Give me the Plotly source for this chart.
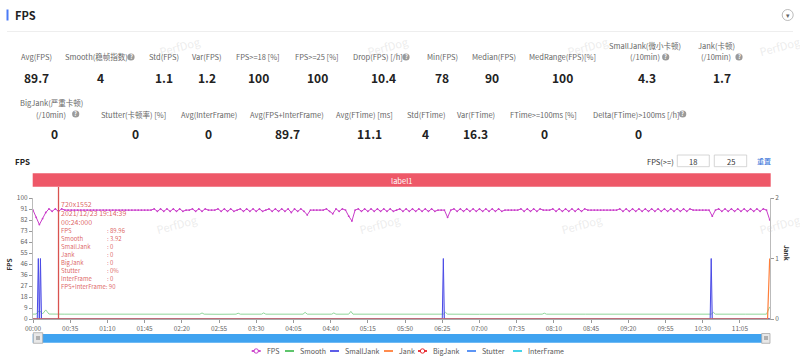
import plotly.graph_objects as go

# ---------------- data ----------------
fps_t = list(range(0, 694, 3))  # sample times (s)
fps_values = [
    90, 84, 78, 83, 88,
    91, 89, 91, 89, 91,
    90, 90, 90, 90, 90, 90, 90, 90, 90, 90, 90, 90, 90, 90,
    90, 90, 90, 90, 90, 90, 90, 90, 90, 90, 90, 90, 90, 90,
    91, 89, 91, 89, 91, 89, 91, 89, 91, 89,
    90, 90,
    91, 89, 91, 89, 91,
    90, 90, 90,
    91, 89, 91, 89, 91, 89, 90, 91, 89, 91, 89, 91, 89, 91, 89,
    90, 91, 89, 91, 89, 91, 89, 91, 88, 91, 89, 91, 89, 86,
    90, 90, 90, 90, 90,
    91, 89, 87, 91, 89, 91,
    90, 85, 81, 90,
    91, 89, 91, 89, 91, 89, 91, 89, 91, 89, 91, 89, 90,
    91, 89, 91, 89, 91, 89, 91, 89, 91, 89, 91, 89,
    90, 90, 90,
    84,
    90,
    91, 89, 91, 89, 91, 89, 91, 89, 91, 89, 91, 89, 91, 89, 91, 89,
    90, 90, 90, 90, 90,
    91, 89, 91, 89, 91, 89, 91,
    90, 90, 90,
    91, 89, 91, 89, 91, 89, 91, 89, 91, 89, 91,
    90, 90, 90, 90, 90, 90, 90, 90, 90, 90,
    91, 89, 91, 89, 91, 89, 91, 89, 91, 89, 91, 89, 91, 89, 91, 89, 91, 89, 91, 89, 91, 89, 91,
    90, 90, 90, 90, 90, 90,
    85,
    90,
    91, 89, 91, 89, 91, 89, 91, 89, 91, 89, 91, 89, 91, 89, 91,
    90,
    82,
]

smooth_t = [0, 3, 6, 9, 12, 15, 30, 60, 90, 120, 150, 157, 159, 161, 175, 191, 193, 195,
            215, 217, 219, 240, 254, 256, 258, 270, 281, 283, 285, 297, 299, 301, 330, 360,
            386, 388, 390, 420, 450, 479, 481, 483, 520, 560, 600, 638, 640, 642, 670, 690, 693]
smooth_values = [4.0, 4.1, 7.0, 4.2, 7.5, 4.1, 4.0, 3.9, 4.0, 4.0, 4.0, 4.0, 5.0, 4.0, 3.9, 4.0, 4.8, 4.0,
                 4.0, 5.0, 4.0, 3.9, 4.0, 5.5, 4.0, 4.0, 4.0, 5.0, 4.0, 4.0, 6.3, 4.0, 4.0, 3.9,
                 4.0, 5.5, 4.0, 3.9, 4.0, 4.0, 4.8, 4.0, 4.0, 3.9, 4.0, 4.0, 5.5, 4.0, 4.0, 4.0, 10.0]

smalljank_t = [0, 4, 5, 6, 7, 8, 385, 386, 387, 637, 638, 639, 693]
smalljank_values = [0, 0, 1, 0, 1, 0, 0, 1, 0, 0, 1, 0, 0]
jank_t = [0, 691, 693]
jank_values = [0, 0, 1]
bigjank_t = [0, 693]
bigjank_values = [0, 0]
stutter_t = [0, 693]
stutter_values = [0, 0]
interframe_t = [0, 693]
interframe_values = [0, 0]

series_names = ["FPS", "Smooth", "SmallJank", "Jank", "BigJank", "Stutter", "InterFrame"]

x_tick_labels = ["00:00", "00:35", "01:10", "01:45", "02:20", "02:55", "03:30", "04:05", "04:40",
                 "05:15", "05:50", "06:25", "07:00", "07:35", "08:10", "08:45", "09:20", "09:55",
                 "10:30", "11:05"]
y_tick_labels = ["0", "9", "18", "27", "36", "46", "55", "64", "73", "82", "91", "100"]
y2_tick_labels = ["0", "1", "2"]

row1_labels = ["Avg(FPS)", "Smooth(稳帧指数)", "Std(FPS)", "Var(FPS)", "FPS>=18 [%]", "FPS>=25 [%]",
               "Drop(FPS) [/h]", "Min(FPS)", "Median(FPS)", "MedRange(FPS)[%]",
               "SmallJank(微小卡顿)<br>(/10min)", "Jank(卡顿)<br>(/10min)"]
row1_values = [89.7, 4, 1.1, 1.2, 100, 100, 10.4, 78, 90, 100, 4.3, 1.7]
row2_labels = ["BigJank(严重卡顿)<br>(/10min)", "Stutter(卡顿率) [%]", "Avg(InterFrame)",
               "Avg(FPS+InterFrame)", "Avg(FTime) [ms]", "Std(FTime)", "Var(FTime)",
               "FTime>=100ms [%]", "Delta(FTime)>100ms [/h]"]
row2_values = [0, 0, 0, 89.7, 11.1, 4, 16.3, 0, 0]

tooltip_time = 24
tooltip_header = ["720x1552", "2021/12/23 19:14:39", "00:24:000"]
tooltip_names = ["FPS", "Smooth", "SmallJank", "Jank", "BigJank", "Stutter", "InterFrame"]
tooltip_values = ["89.96", "3.92", "0", "0", "0", "0%", "0"]
tooltip_combo = "FPS+InterFrame: 90"
label_name = "label1"
fps_thresholds = ["18", "25"]

# ---------------- styles / layout ----------------
W, H = 800, 358
L, R, T, B = 33, 770, 198, 319
PW, PH = R - L, B - T


def PX(x):
    return (x - L) / PW


def PY(y):
    return (B - y) / PH


FONT = "Noto Sans CJK SC, Noto Sans, sans-serif"
colors = {"FPS": "#c93bc9", "Smooth": "#4cbf5c", "SmallJank": "#4b4be6", "Jank": "#ff7f3a",
          "BigJank": "#e8262c", "Stutter": "#4a8af4", "InterFrame": "#33cfe6"}

fig = go.Figure()
fig.add_trace(go.Scatter(x=fps_t, y=fps_values, name="FPS", mode="lines+markers",
                         line=dict(color=colors["FPS"], width=1),
                         marker=dict(size=1.8, color=colors["FPS"]), yaxis="y"))
fig.add_trace(go.Scatter(x=smooth_t, y=smooth_values, name="Smooth", mode="lines",
                         line=dict(color="#8fd69a", width=1), yaxis="y"))
fig.add_trace(go.Scatter(x=stutter_t, y=stutter_values, name="Stutter", mode="lines",
                         line=dict(color=colors["Stutter"], width=1), yaxis="y"))
fig.add_trace(go.Scatter(x=interframe_t, y=interframe_values, name="InterFrame", mode="lines",
                         line=dict(color=colors["InterFrame"], width=1), yaxis="y"))
fig.add_trace(go.Scatter(x=bigjank_t, y=bigjank_values, name="BigJank", mode="lines",
                         line=dict(color=colors["BigJank"], width=1), yaxis="y2"))
fig.add_trace(go.Scatter(x=smalljank_t, y=smalljank_values, name="SmallJank", mode="lines",
                         line=dict(color=colors["SmallJank"], width=1), fill="tozeroy",
                         fillcolor="rgba(110,110,240,0.25)", yaxis="y2"))
fig.add_trace(go.Scatter(x=jank_t, y=jank_values, name="Jank", mode="lines",
                         line=dict(color=colors["Jank"], width=1.2), yaxis="y2"))


def secs(lbl):
    m, s = lbl.split(":")
    return int(m) * 60 + int(s)


x_tick_vals = [secs(t) for t in x_tick_labels]
y_tick_vals = [i * 100 / 11 for i in range(len(y_tick_labels))]
tickfont = dict(size=6.5, color="#666", family=FONT)

shapes = []
ann = []


def text(x, y, s, size=7.5, color="#555", bold=False, xanchor="center", angle=0, **kw):
    if bold:
        s = "<b>" + s + "</b>"
    ann.append(dict(x=PX(x), y=PY(y), xref="paper", yref="paper", text=s, showarrow=False,
                    xanchor=xanchor, yanchor="middle", textangle=angle,
                    font=dict(size=size, color=color, family=FONT), **kw))


def rect(x0, y0, x1, y1, fill, line="rgba(0,0,0,0)", lw=0):
    shapes.append(dict(type="rect", xref="paper", yref="paper", x0=PX(x0), x1=PX(x1),
                       y0=PY(y1), y1=PY(y0), fillcolor=fill, line=dict(color=line, width=lw)))


def circle(cx, cy, r, fill, line="rgba(0,0,0,0)", lw=0):
    shapes.append(dict(type="circle", xref="paper", yref="paper", x0=PX(cx - r), x1=PX(cx + r),
                       y0=PY(cy + r), y1=PY(cy - r), fillcolor=fill, line=dict(color=line, width=lw)))


def hline(x0, x1, y, color, lw):
    shapes.append(dict(type="line", xref="paper", yref="paper", x0=PX(x0), x1=PX(x1),
                       y0=PY(y), y1=PY(y), line=dict(color=color, width=lw)))


# watermarks
for wx, wy in [(180, 46), (388, 46), (588, 46), (780, 46), (177, 224), (380, 224), (582, 224), (780, 224)]:
    text(wx, wy, "PerfDog", size=11, color="rgba(200,200,200,0.35)", angle=-15)

# header
rect(6.5, 9.5, 8.5, 20.5, "#4a7bf7")
text(13, 15, "FPS", size=11, color="#222", bold=True, xanchor="left")
hline(7, 793, 31.5, "#eeeeee", 1)
circle(787.7, 15, 5.5, "white", "#aaa", 0.8)
text(787.7, 15.5, "▾", size=7, color="#666")

# stats
row1_label_x = [36, 96.7, 164, 206.7, 257.5, 317, 377.5, 442.5, 494, 562.5, 645, 716]
row1_value_x = [36, 100, 164, 206.7, 258, 317, 383, 442.3, 492, 562, 646.7, 721.7]
row2_label_x = [51, 133, 209, 287, 364, 426, 475.5, 543, 636]
row2_value_x = [54.3, 135, 208.3, 287.3, 369.3, 425.7, 475.7, 544, 638.3]


def stat_row(labels, values, lx, vx, ly, vy):
    for lab, val, x1, x2 in zip(labels, values, lx, vx):
        lines = lab.split("<br>")
        n = len(lines)
        for k, ln in enumerate(lines):
            text(x1, ly - (n - 1 - k) * 11.7, ln, size=7.5, color="#666")
        text(x2, vy, str(val), size=12, color="#222", bold=True)


stat_row(row1_labels, row1_values, row1_label_x, row1_value_x, 56.7, 77.3)
stat_row(row2_labels, row2_values, row2_label_x, row2_value_x, 114, 133.3)

for qx, qy in [(131, 57), (406, 57), (665.7, 57), (739, 57), (75.7, 114), (682.7, 114)]:
    circle(qx, qy, 3.6, "#9a9a9a")
    text(qx, qy + 0.3, "?", size=5.5, color="white", bold=True)

# chart header
text(12.5, 161, "FPS", size=8, color="#222", bold=True, xanchor="left")
text(645, 161, "FPS(>=)", size=7.5, color="#333", xanchor="left")
rect(677.3, 155, 709.3, 166.7, "white", "#cccccc", 0.8)
rect(714.3, 155, 746.7, 166.7, "white", "#cccccc", 0.8)
text(693.3, 161, fps_thresholds[0], size=7.5, color="#333")
text(730.5, 161, fps_thresholds[1], size=7.5, color="#333")
text(763.5, 161, "重置", size=7, color="#2f6fd8")

rect(32.7, 173.3, 770.7, 186.7, "#ee5868")
text(401, 180, label_name, size=7.5, color="white")

# axis titles
text(8.5, 265, "FPS", size=6.5, color="#333", bold=True, angle=-90)
text(787, 253, "Jank", size=6.5, color="#333", bold=True, angle=90)

# tooltip
shapes.append(dict(type="line", xref="x", yref="paper", x0=tooltip_time, x1=tooltip_time,
                   y0=0, y1=PY(187), line=dict(color="#d9534f", width=1.3)))
tcol = "rgba(214,70,70,0.85)"


def tip(s, yy, size, shift):
    ann.append(dict(x=tooltip_time, y=PY(yy), xref="x", yref="paper", text=s, showarrow=False,
                    xanchor="left", yanchor="middle", xshift=shift, borderpad=0,
                    font=dict(size=size, color=tcol, family=FONT)))


for s, yy in zip(tooltip_header, [203.5, 212.5, 222]):
    tip(s, yy, 7, 1)
rows_y = [230.7, 238.7, 246.7, 254.7, 262.7, 270.7, 278.7]
for nm, vl, yy in zip(tooltip_names, tooltip_values, rows_y):
    tip(nm, yy, 6, 1)
    tip(": " + vl, yy, 6, 47)
tip(tooltip_combo, 286.7, 6, 1)

# slider (data zoom)
rect(32.7, 334, 770, 342.7, "#3fa3f0")
rect(33.3, 332.7, 42.7, 343.3, "#e8e8e8", "#aaaaaa", 0.8)
rect(36, 336, 40, 340, "#b0b0b0")
rect(761.7, 333.5, 770, 343.3, "#e8e8e8", "#aaaaaa", 0.8)
rect(764, 336, 768, 340, "#b0b0b0")

# legend
legend_sym_x = [251.7, 285, 330, 384, 418, 467, 513]
with_marker = {"FPS", "BigJank"}
for nm, x0 in zip(series_names, legend_sym_x):
    hline(x0, x0 + 9, 351, colors[nm], 1.8)
    if nm in with_marker:
        circle(x0 + 4.5, 351, 2.2, "white", colors[nm], 1)
    text(x0 + 13, 351, nm, size=7, color="#555", xanchor="left")

fig.update_layout(
    width=W, height=H, autosize=False,
    margin=dict(l=L, r=W - R, t=T, b=H - B, pad=0),
    paper_bgcolor="white", plot_bgcolor="white",
    showlegend=False,
    font=dict(family=FONT),
    xaxis=dict(range=[0, 693.3], tickvals=x_tick_vals, ticktext=x_tick_labels, ticks="outside",
               ticklen=3, tickcolor="#999", showline=True, linecolor="#aaa", linewidth=1,
               showgrid=False, zeroline=False, tickfont=tickfont),
    yaxis=dict(range=[0, 100], tickvals=y_tick_vals, ticktext=y_tick_labels, ticks="outside",
               ticklen=3, tickcolor="#999", showline=True, linecolor="#bbb", linewidth=1,
               showgrid=False, zeroline=False, tickfont=tickfont),
    yaxis2=dict(range=[0, 2], overlaying="y", side="right", tickvals=[0, 1, 2],
                ticktext=y2_tick_labels, ticks="outside", ticklen=3, tickcolor="#999",
                showline=True, linecolor="#bbb", linewidth=1, showgrid=False, zeroline=False,
                tickfont=tickfont),
    shapes=shapes,
    annotations=ann,
)

fig.write_html("out.html", config={"displayModeBar": False},
               post_script="document.body.style.margin='0';document.body.style.overflow='hidden';")
